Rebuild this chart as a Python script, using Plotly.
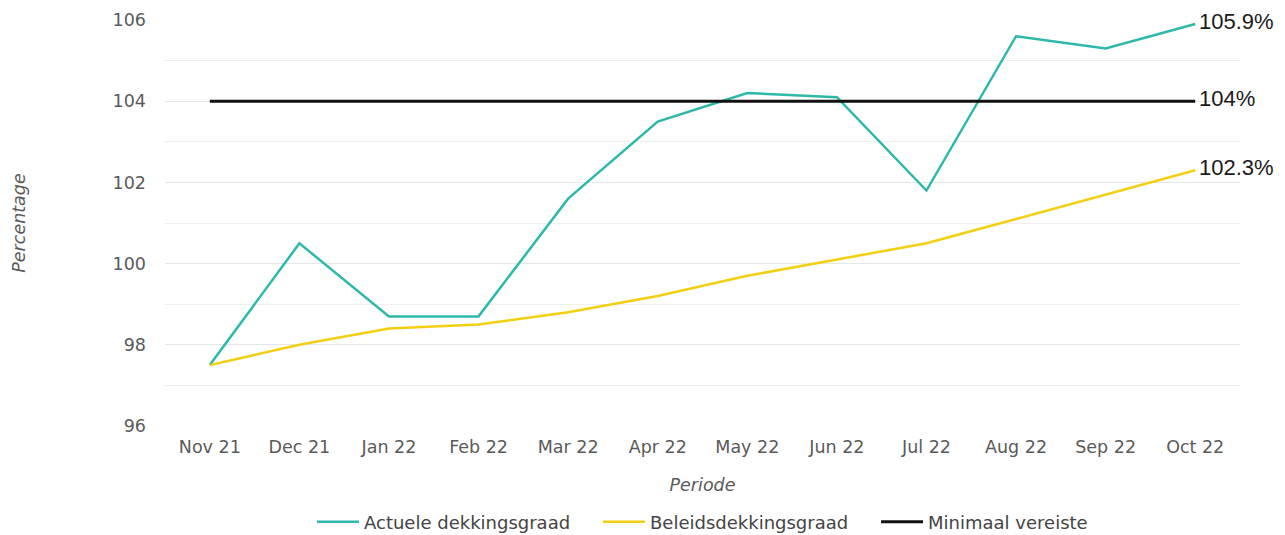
import plotly.graph_objects as go

periods = ["Nov 21", "Dec 21", "Jan 22", "Feb 22", "Mar 22", "Apr 22",
           "May 22", "Jun 22", "Jul 22", "Aug 22", "Sep 22", "Oct 22"]
actuele = [97.5, 100.5, 98.7, 98.7, 101.6, 103.5, 104.2, 104.1, 101.8, 105.6, 105.3, 105.9]
beleids = [97.5, 98.0, 98.4, 98.5, 98.8, 99.2, 99.7, 100.1, 100.5, 101.1, 101.7, 102.3]
minimaal = [104.0] * 12
series_names = ["Actuele dekkingsgraad", "Beleidsdekkingsgraad", "Minimaal vereiste"]
end_labels = ["105.9%", "104%", "102.3%"]

FONT = "DejaVu Sans, Verdana, sans-serif"
LABEL_FONT = "Liberation Sans, Arial, sans-serif"
TICK = dict(family=FONT, size=17.5, color="#5a5a5a")
PAD = "\u00a0" * 4

fig = go.Figure()
fig.add_trace(go.Scatter(x=periods, y=actuele, mode="lines", name=series_names[0] + PAD,
                         line=dict(color="#2db8aa", width=2.5)))
fig.add_trace(go.Scatter(x=periods, y=beleids, mode="lines", name=series_names[1] + PAD,
                         line=dict(color="#f3cf12", width=2.5)))
fig.add_trace(go.Scatter(x=periods, y=minimaal, mode="lines", name=series_names[2],
                         line=dict(color="#111111", width=3)))

for series, label in zip([actuele, minimaal, beleids], end_labels):
    fig.add_annotation(x=periods[-1], y=series[-1], text=label, showarrow=False,
                       xanchor="left", yanchor="middle", xshift=2, yshift=3,
                       font=dict(family=LABEL_FONT, size=22, color="#1a1a1a"))

fig.update_layout(
    width=1285, height=535,
    margin=dict(l=165, r=45, t=20, b=109, autoexpand=False),
    paper_bgcolor="white", plot_bgcolor="white",
    font=dict(family=FONT, size=17.5, color="#5a5a5a"),
    showlegend=True,
    legend=dict(orientation="h", x=0.5, xanchor="center", xref="paper",
                y=(535 - 522) / 535, yanchor="middle", yref="container",
                font=dict(family=FONT, size=18, color="#444444"), itemwidth=42,
                tracegroupgap=0),
    xaxis=dict(type="category", range=[-0.5, 11.5], showgrid=False, zeroline=False,
               showline=False, ticklabelstandoff=8, tickfont=TICK,
               title=dict(text="<i>Periode</i>", standoff=23,
                          font=dict(family=FONT, size=17.5, color="#5a5a5a"))),
    yaxis=dict(range=[96, 106], dtick=2, tick0=96, showgrid=True, gridcolor="#e6e6e6",
               gridwidth=1, zeroline=False, showline=False, ticklabelstandoff=18,
               minor=dict(dtick=1, showgrid=True, gridcolor="#eeeeee", gridwidth=1),
               tickfont=TICK,
               title=dict(text="<i>Percentage</i>", standoff=82,
                          font=dict(family=FONT, size=17.5, color="#5a5a5a"))),
)

fig.write_html("out.html", config={"displayModeBar": False},
               post_script="document.body.style.margin='0px';")
